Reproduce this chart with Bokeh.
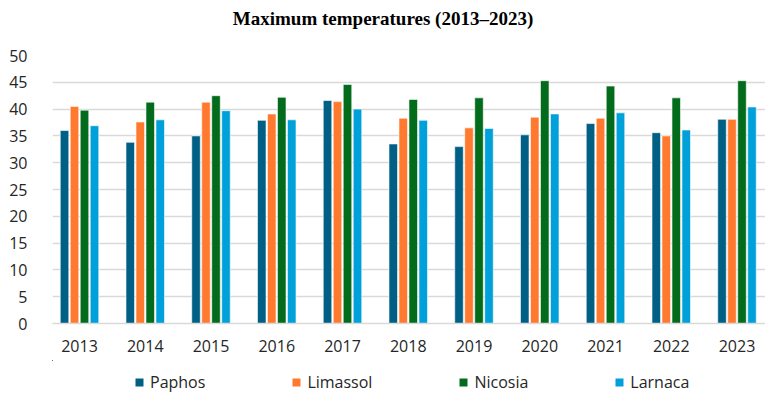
from bokeh.plotting import figure
from bokeh.models import ColumnDataSource, Range1d, FixedTicker, Legend, LegendItem, Label
from bokeh.layouts import column
from bokeh.transform import dodge
from bokeh.embed import file_html
from bokeh.resources import INLINE

years = ["2013", "2014", "2015", "2016", "2017", "2018", "2019", "2020", "2021", "2022", "2023"]
paphos = [36.0, 33.8, 35.0, 37.9, 41.6, 33.5, 33.0, 35.2, 37.3, 35.6, 38.1]
limassol = [40.5, 37.6, 41.3, 39.1, 41.4, 38.3, 36.5, 38.5, 38.3, 35.0, 38.1]
nicosia = [39.8, 41.3, 42.5, 42.2, 44.6, 41.8, 42.1, 45.3, 44.3, 42.1, 45.3]
larnaca = [36.9, 38.0, 39.7, 38.0, 40.0, 37.9, 36.4, 39.1, 39.3, 36.1, 40.4]
series = ["Paphos", "Limassol", "Nicosia", "Larnaca"]
colors = ["#005f85", "#ff7a2f", "#036b1c", "#00a0da"]
y_ticks = [0, 5, 10, 15, 20, 25, 30, 35, 40, 45, 50]
title_text = "Maximum temperatures (2013\u20132023)"

idx = list(range(len(years)))
data = dict(x=idx, Paphos=paphos, Limassol=limassol, Nicosia=nicosia, Larnaca=larnaca)
src = ColumnDataSource(data)

FONT = "Open Sans"
LEFT = 52
FRAME_W = 765 - LEFT

# title strip (its frame is aligned with the main chart's frame by the column)
tfig = figure(width=765, height=36, x_range=Range1d(0, 1), y_range=Range1d(0, 1),
              x_axis_type=None, y_axis_type=None, output_backend="svg",
              toolbar_location=None, tools="", min_border=0)
tfig.outline_line_color = None
tfig.grid.grid_line_color = None
tfig.add_layout(Label(x=(765 / 2 - LEFT) / FRAME_W, y=0.5, text=title_text, text_align="center",
                      text_baseline="middle", text_font="Liberation Serif",
                      text_font_size="19px", text_font_style="bold",
                      text_color="#000000"))

# main chart
unit = 65.75
p = figure(width=765, height=324,
           min_border_left=LEFT, min_border_right=0, min_border_top=19, min_border_bottom=37,
           x_range=Range1d(-27 / unit, 686 / unit), y_range=Range1d(0, 50),
           output_backend="svg", toolbar_location=None, tools="")

offsets = [-0.228, -0.076, 0.076, 0.228]
for name, col, off in zip(series, colors, offsets):
    p.vbar(x=dodge("x", off), top=name, width=0.13, source=src,
           fill_color=col, line_color="white", line_width=0.6)

p.xaxis.ticker = FixedTicker(ticks=idx)
p.xaxis.major_label_overrides = {i: y for i, y in zip(idx, years)}
p.yaxis.ticker = FixedTicker(ticks=y_ticks)

for ax in (p.xaxis, p.yaxis):
    ax.major_tick_line_color = None
    ax.minor_tick_line_color = None
    ax.major_label_text_font = FONT
    ax.major_label_text_font_size = "16px"
    ax.major_label_text_color = "#262626"
p.yaxis.axis_line_color = None
p.yaxis.major_label_standoff = 19
p.xaxis.axis_line_color = "#d9d9d9"
p.xaxis.axis_line_width = 1.5
p.xaxis.major_label_standoff = 10

p.xgrid.grid_line_color = None
p.ygrid.grid_line_color = "#d9d9d9"
p.ygrid.grid_line_width = 1.5
p.outline_line_color = None

# legend strip (proxy renderers lie outside its ranges, only the legend shows)
lfig = figure(width=765, height=36, x_range=Range1d(100, 101), y_range=Range1d(-200, -100),
              x_axis_type=None, y_axis_type=None, output_backend="svg",
              toolbar_location=None, tools="", min_border=0)
lfig.outline_line_color = None
lfig.grid.grid_line_color = None
lsrc = ColumnDataSource(data)
items = []
for name, col in zip(series, colors):
    r = lfig.vbar(x="x", top=name, width=0.1, source=lsrc, fill_color=col, line_color=None)
    items.append(LegendItem(label=name, renderers=[r]))
legend = Legend(items=items, orientation="horizontal", location=(134 - LEFT, 3),
                label_text_font=FONT, label_text_font_size="16px",
                label_text_color="#262626", glyph_width=10, glyph_height=10,
                label_standoff=6, spacing=86, border_line_color=None,
                background_fill_alpha=0, padding=0, margin=0, label_height=20)
lfig.add_layout(legend, "center")

layout = column(tfig, p, lfig, spacing=0)
open("out.html", "w").write(file_html(layout, INLINE))
